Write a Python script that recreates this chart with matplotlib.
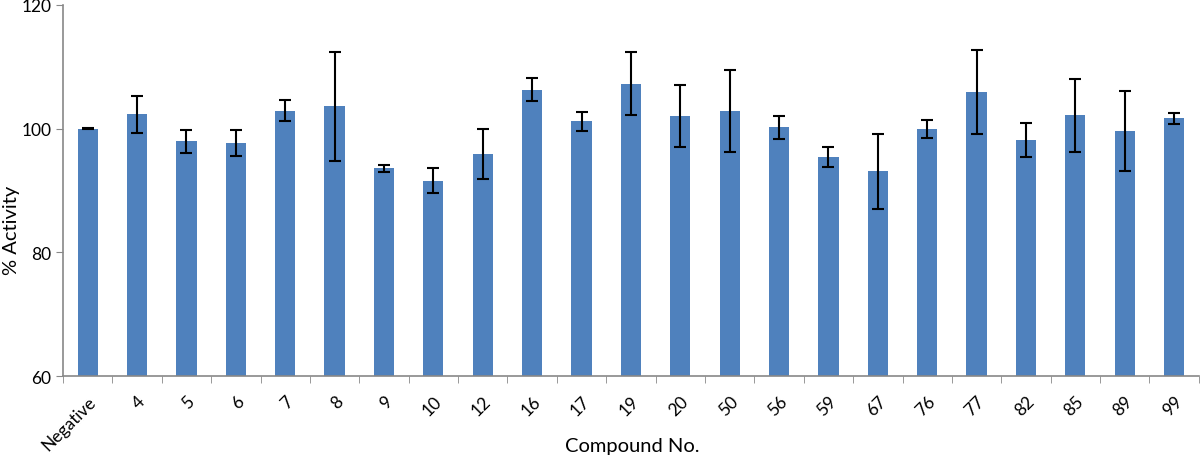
import numpy as np
import matplotlib
matplotlib.use("Agg")
import matplotlib.pyplot as plt

compounds = ["Negative", "4", "5", "6", "7", "8", "9", "10", "12", "16", "17", "19",
             "20", "50", "56", "59", "67", "76", "77", "82", "85", "89", "99"]
activity = [100.0, 102.3, 97.95, 97.7, 102.9, 103.6, 93.6, 91.6, 95.9, 106.3, 101.2, 107.3,
            102.05, 102.9, 100.2, 95.4, 93.1, 100.0, 106.0, 98.2, 102.2, 99.6, 101.7]
error = [0.1, 3.0, 1.9, 2.1, 1.7, 8.8, 0.6, 2.0, 4.1, 1.85, 1.5, 5.1,
         5.0, 6.6, 1.8, 1.6, 6.0, 1.45, 6.8, 2.8, 5.9, 6.5, 0.9]

plt.rcParams['font.family'] = ['Lato', 'DejaVu Sans']

fig = plt.figure(figsize=(12, 4.6), dpi=100)
ax = fig.add_axes([0.0525, 0.18, 0.9465, 0.807])

x = np.arange(len(compounds))
ax.bar(x, activity, width=0.41, color='#4F81BD', zorder=2)
ax.errorbar(x, activity, yerr=error, fmt='none', ecolor='black',
            elinewidth=1.5, capsize=4, capthick=1.5, zorder=3)

ax.set_ylim(60, 120)
ax.set_yticks([60, 80, 100, 120])
ax.set_xlim(-0.5, len(compounds) - 0.5)

# ticks sit between categories like excel
ax.set_xticks(x)
ax.set_xticklabels(compounds, rotation=45, ha='right', rotation_mode='anchor', fontsize=12.5)
ax.set_xticks(np.arange(len(compounds) + 1) - 0.5, minor=True)
ax.tick_params(axis='x', which='major', length=0, pad=12)
ax.tick_params(axis='x', which='minor', length=5, color='#888888', direction='out')
ax.tick_params(axis='y', length=5, color='#888888', labelsize=12.5)

for s in ['top', 'right']:
    ax.spines[s].set_visible(False)
for s in ['left', 'bottom']:
    ax.spines[s].set_color('#888888')
    ax.spines[s].set_linewidth(1.2)

ax.set_ylabel('% Activity', fontsize=14.5)
ax.set_xlabel('Compound No.', fontsize=14.5)
ax.yaxis.set_label_coords(12 / 1200, 0.5, transform=fig.transFigure)
ax.xaxis.set_label_coords(632 / 1200, 1 - 447 / 460, transform=fig.transFigure)
ax.xaxis.label.set_va('center')
ax.yaxis.label.set_va('center')

fig.savefig('out.png', dpi=100)
